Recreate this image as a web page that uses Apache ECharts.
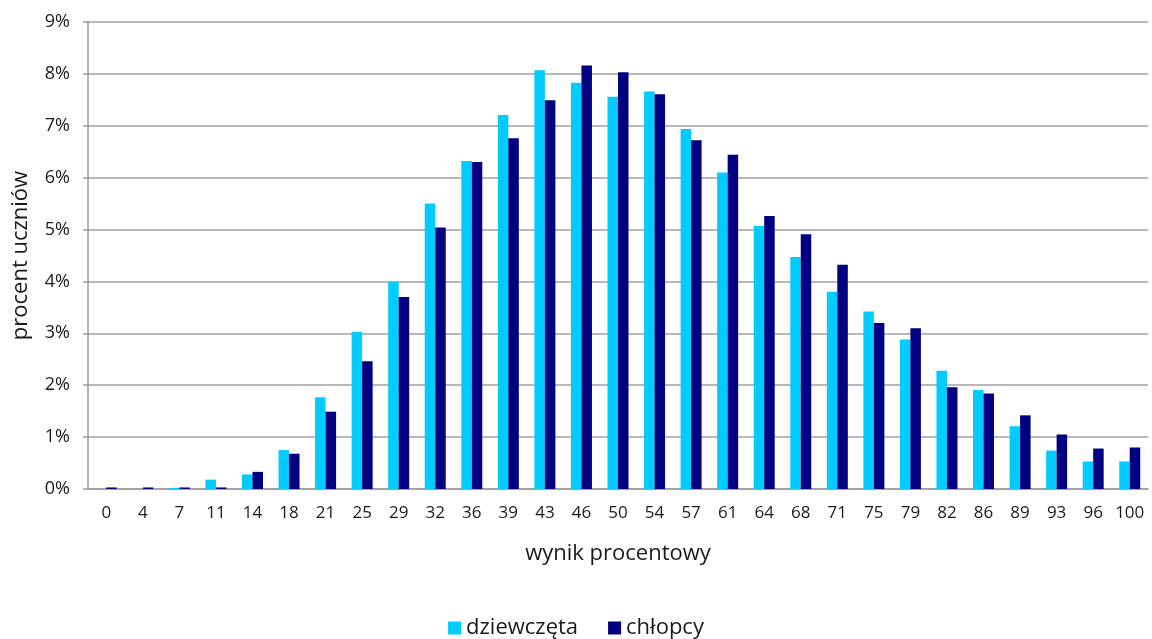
<!DOCTYPE html>
<html>
<head>
<meta charset="utf-8">
<script src="https://cdn.jsdelivr.net/npm/echarts@6/dist/echarts.min.js"></script>
<style>html,body{margin:0;padding:0;background:#fff;}#c{width:1152px;height:639px;}</style>
</head>
<body>
<div id="c"></div>
<script>
const categories = ['0','4','7','11','14','18','21','25','29','32','36','39','43','46','50','54','57','61','64','68','71','75','79','82','86','89','93','96','100'];
const girls = [0, 0, 0.02, 0.18, 0.28, 0.75, 1.77, 3.03, 4.0, 5.5, 6.32, 7.21, 8.07, 7.83, 7.56, 7.66, 6.94, 6.1, 5.07, 4.47, 3.8, 3.42, 2.88, 2.28, 1.91, 1.21, 0.74, 0.53, 0.53];
const boys = [0.03, 0.03, 0.03, 0.03, 0.33, 0.68, 1.49, 2.46, 3.7, 5.04, 6.3, 6.76, 7.49, 8.16, 8.03, 7.61, 6.72, 6.44, 5.26, 4.91, 4.32, 3.2, 3.1, 1.96, 1.84, 1.42, 1.05, 0.78, 0.8];
const yTicks = [0,1,2,3,4,5,6,7,8,9];

const font = '"Open Sans", "Noto Sans", sans-serif';
const chart = echarts.init(document.getElementById('c'));
chart.setOption({
  animation: false,
  textStyle: { fontFamily: font },
  grid: { left: 88, right: 4, top: 22, bottom: 150, containLabel: false },
  legend: {
    bottom: -5, left: 'center',
    itemWidth: 13, itemHeight: 13, itemGap: 30,
    icon: 'rect',
    textStyle: { fontFamily: font, fontSize: 22, color: '#1a1a1a' },
    data: ['dziewczęta', 'chłopcy']
  },
  xAxis: {
    type: 'category',
    data: categories,
    name: 'wynik procentowy',
    nameLocation: 'middle',
    nameGap: 54,
    nameTextStyle: { fontFamily: font, fontSize: 22, color: '#1a1a1a' },
    axisLine: { lineStyle: { color: '#9a9a9a', width: 1.5 } },
    axisTick: { show: false },
    axisLabel: { fontFamily: font, fontSize: 17, color: '#1a1a1a', margin: 16, interval: 0 }
  },
  yAxis: {
    type: 'value',
    min: yTicks[0], max: yTicks[yTicks.length - 1], interval: 1,
    name: 'procent uczniów',
    nameLocation: 'middle',
    nameGap: 56,
    nameRotate: 90,
    nameTextStyle: { fontFamily: font, fontSize: 22, color: '#1a1a1a' },
    axisLine: { show: true, lineStyle: { color: '#9a9a9a', width: 1.5 } },
    axisTick: { show: true, length: 5, lineStyle: { color: '#9a9a9a', width: 1.5 } },
    axisLabel: { fontFamily: font, fontSize: 18, color: '#1a1a1a', margin: 18, formatter: '{value}%' },
    splitLine: { lineStyle: { color: '#a0a0a0', width: 1.5 } }
  },
  series: [
    { name: 'dziewczęta', type: 'bar', data: girls, barWidth: 10.5, barGap: '0%', itemStyle: { color: '#00CCFF' } },
    { name: 'chłopcy', type: 'bar', data: boys, barWidth: 10.5, barGap: '0%', itemStyle: { color: '#000080' } }
  ]
});
</script>
</body>
</html>
